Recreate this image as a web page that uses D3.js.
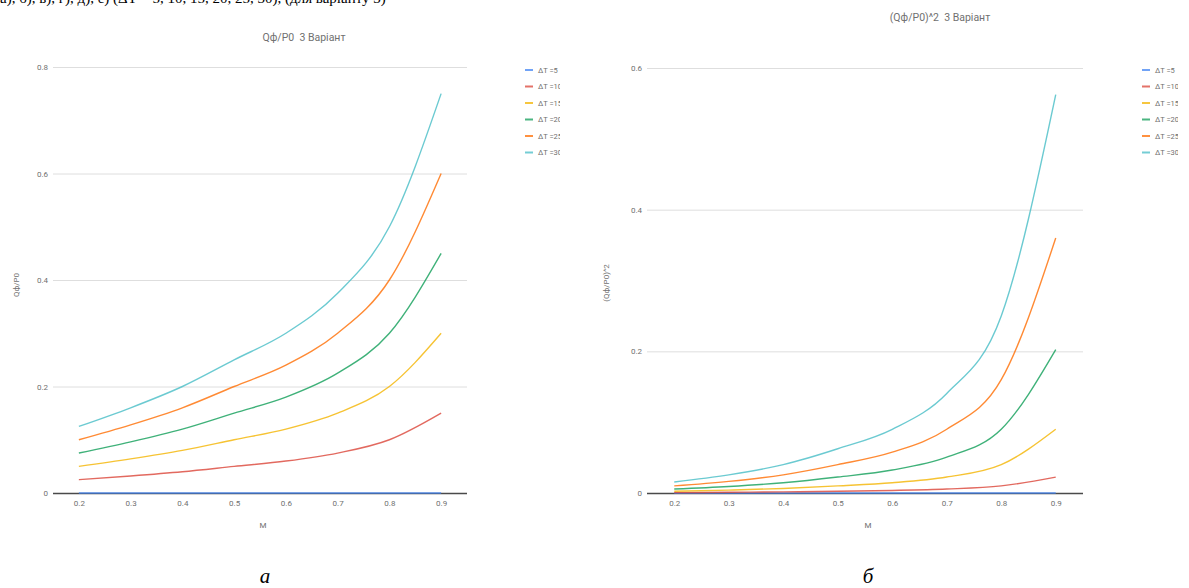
<!DOCTYPE html>
<html lang="uk">

<head>
	<title>Qф/P0 3 Варіант</title>
	<meta charset="utf-8">
	<script src="https://d3js.org/d3.v7.min.js"></script>
	<style>
		body {
			margin: 0;
			background: #fff;
		}

		svg {
			display: block;
		}

		.axis-text {
			font-family: Roboto, "Noto Sans", sans-serif;
			fill: #707070;
		}
	</style>
</head>

<body>
	<div id="container"></div>
	<script>
		// Data
		const mValues = [0.2, 0.3, 0.4, 0.5, 0.6, 0.7, 0.8, 0.9];
		const dtLabels = ["ΔT =5", "ΔT =10", "ΔT =15", "ΔT =20", "ΔT =25", "ΔT =30"];
		const leftTicks = [0, 0.2, 0.4, 0.6, 0.8];
		const rightTicks = [0, 0.2, 0.4, 0.6];

		// Qф/P0
		const q5 = [0, 0, 0, 0, 0, 0, 0, 0];
		const q10 = [0.025, 0.032, 0.04, 0.05, 0.06, 0.075, 0.1, 0.15];
		const q15 = [0.05, 0.064, 0.08, 0.1, 0.12, 0.15, 0.2, 0.3];
		const q20 = [0.075, 0.096, 0.12, 0.15, 0.18, 0.225, 0.3, 0.45];
		const q25 = [0.1, 0.128, 0.16, 0.2, 0.24, 0.3, 0.4, 0.6];
		const q30 = [0.125, 0.16, 0.2, 0.25, 0.3, 0.375, 0.5, 0.75];

		// (Qф/P0)^2
		const s5 = [0, 0, 0, 0, 0, 0, 0, 0];
		const s10 = [0.0006, 0.001, 0.0016, 0.0025, 0.0036, 0.0056, 0.01, 0.0225];
		const s15 = [0.0025, 0.0041, 0.0064, 0.01, 0.0144, 0.0225, 0.04, 0.09];
		const s20 = [0.0056, 0.0092, 0.0144, 0.0225, 0.0324, 0.0506, 0.09, 0.2025];
		const s25 = [0.01, 0.0164, 0.0256, 0.04, 0.0576, 0.09, 0.16, 0.36];
		const s30 = [0.0156, 0.0256, 0.04, 0.0625, 0.09, 0.1406, 0.25, 0.5625];

		const colors = ["#4285f4", "#db4437", "#f4b400", "#0f9d58", "#ff6d01", "#46bdc6"];

		const width = 1189;
		const height = 588;

		const svg = d3.select("#container")
			.append("svg")
			.attr("width", width)
			.attr("height", height);

		// Line of text above the figure (cut off in the source too)
		svg.append("text")
			.attr("x", 0)
			.attr("y", 3)
			.style("font-family", "'Liberation Serif', serif")
			.style("font-size", "15px")
			.style("fill", "#000")
			.text("а), б), в), г), д), е) (ΔT = 5, 10, 15, 20, 25, 30), (для варіанту 3)");

		function drawChart(cfg) {
			const x = d3.scalePoint()
				.domain(mValues)
				.range([cfg.left, cfg.right])
				.padding(0.5);

			const y = d3.scaleLinear()
				.domain([0, cfg.yMax])
				.range([493, 493 - cfg.pxPerUnit * cfg.yMax]);

			const g = svg.append("g");

			// Gridlines
			g.append("g")
				.attr("transform", `translate(${cfg.left},0)`)
				.call(d3.axisLeft(y)
					.tickValues(cfg.ticks)
					.tickSize(-(cfg.right - cfg.left))
					.tickPadding(5)
					.tickFormat(d => d))
				.call(a => a.select(".domain").remove())
				.call(a => a.selectAll(".tick line")
					.attr("stroke", d => d === 0 ? "#4a4a4a" : "#dedede")
					.attr("stroke-width", d => d === 0 ? 1.3 : 1))
				.call(a => a.selectAll(".tick text")
					.attr("class", "axis-text")
					.style("font-size", "8px"));

			// X axis labels
			g.append("g")
				.attr("transform", "translate(0,493)")
				.call(d3.axisBottom(x).tickSize(0).tickPadding(7).tickFormat(d => d))
				.call(a => a.select(".domain").remove())
				.call(a => a.selectAll(".tick text")
					.attr("class", "axis-text")
					.style("font-size", "8px"));

			// Lines
			const line = d3.line()
				.curve(d3.curveMonotoneX)
				.x((d, i) => x(mValues[i]))
				.y(d => y(d));

			g.selectAll(".series")
				.data(cfg.series)
				.enter().append("path")
				.attr("class", "series")
				.attr("d", line)
				.style("fill", "none")
				.style("stroke", (d, i) => colors[i])
				.style("stroke-width", 1.4)
				.style("opacity", 0.8);

			// Titles
			g.append("text")
				.attr("class", "axis-text")
				.attr("x", cfg.titleX)
				.attr("y", cfg.titleY)
				.attr("text-anchor", "middle")
				.style("font-size", "10.5px")
				.style("white-space", "pre")
				.text(cfg.title);

			g.append("text")
				.attr("class", "axis-text")
				.attr("transform", `translate(${cfg.yTitleX},${cfg.yTitleY}) rotate(-90)`)
				.attr("text-anchor", "middle")
				.style("font-size", "8px")
				.text(cfg.yTitle);

			g.append("text")
				.attr("class", "axis-text")
				.attr("x", (cfg.left + cfg.right) / 2 + 3)
				.attr("y", 528)
				.attr("text-anchor", "middle")
				.style("font-size", "8px")
				.text("M");

			// Legend (its right side is cut off in the source)
			const clipId = "clip" + cfg.legendX;
			g.append("clipPath")
				.attr("id", clipId)
				.append("rect")
				.attr("x", cfg.legendX - 5)
				.attr("y", 55)
				.attr("width", cfg.legendClip - cfg.legendX + 5)
				.attr("height", 110);

			const legend = g.append("g")
				.attr("clip-path", `url(#${clipId})`)
				.selectAll(".legend-item")
				.data(dtLabels)
				.enter().append("g")
				.attr("transform", (d, i) => `translate(${cfg.legendX},${70 + i * 16.5})`);

			legend.append("line")
				.attr("x1", 0)
				.attr("x2", 8)
				.style("stroke", (d, i) => colors[i])
				.style("stroke-width", 2)
				.style("opacity", 0.75);

			legend.append("text")
				.attr("class", "axis-text")
				.attr("x", 13)
				.attr("y", 2.5)
				.style("font-size", "7.5px")
				.text(d => d);

			// Caption
			svg.append("text")
				.attr("x", cfg.captionX)
				.attr("y", 583)
				.attr("text-anchor", "middle")
				.style("font-family", "'Liberation Serif', serif")
				.style("font-style", "italic")
				.style("font-size", "21px")
				.style("fill", "#000")
				.text(cfg.caption);
		}

		drawChart({
			left: 53,
			right: 467,
			yMax: 0.8,
			pxPerUnit: 532.5,
			ticks: leftTicks,
			series: [q5, q10, q15, q20, q25, q30],
			title: "Qф/P0  3 Варіант",
			titleX: 304,
			titleY: 41,
			yTitle: "Qф/P0",
			yTitleX: 19,
			yTitleY: 285,
			legendX: 525,
			legendClip: 560,
			caption: "а",
			captionX: 265
		});

		drawChart({
			left: 647,
			right: 1083,
			yMax: 0.6,
			pxPerUnit: 708.3,
			ticks: rightTicks,
			series: [s5, s10, s15, s20, s25, s30],
			title: "(Qф/P0)^2  3 Варіант",
			titleX: 940,
			titleY: 21,
			yTitle: "(Qф/P0)^2",
			yTitleX: 609,
			yTitleY: 283,
			legendX: 1142,
			legendClip: 1178,
			caption: "б",
			captionX: 868
		});
	</script>
</body>

</html>
